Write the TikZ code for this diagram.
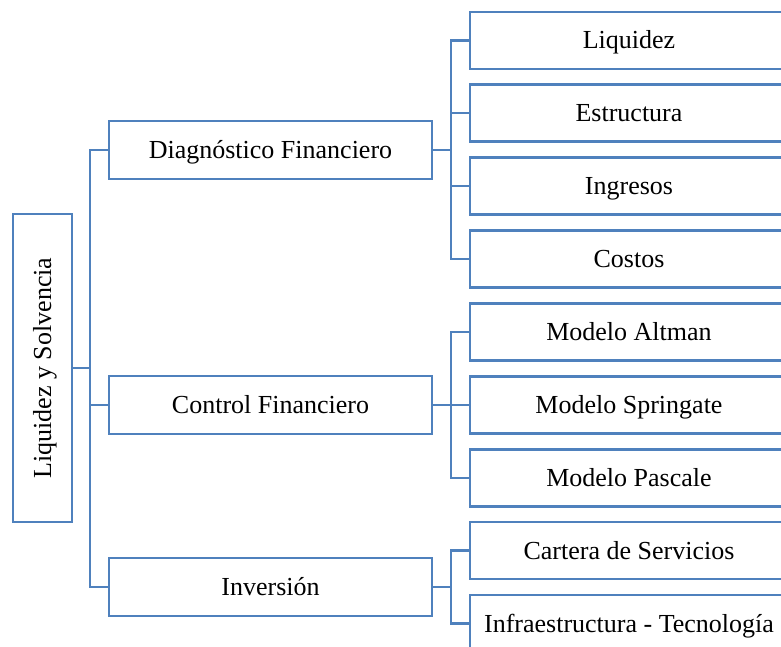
\documentclass[tikz,border=0pt]{standalone}
\usepackage{fontspec}
\setmainfont{Liberation Serif}
\definecolor{boxblue}{RGB}{79,129,189}
\begin{document}
\begin{tikzpicture}[x=1pt,y=-1pt,
  txt/.style={font=\fontsize{26}{30}\selectfont,text=black,text height=17pt,text depth=0pt,inner sep=0pt},
  box/.style={draw=boxblue,line width=2.7pt,fill=white,rectangle,txt},
  leafbox/.style={box,minimum width=318pt,minimum height=57pt},
  midbox/.style={box,minimum width=323pt,minimum height=58pt},
  conn/.style={draw=boxblue,line width=2.7pt}]
\useasboundingbox (0,0) rectangle (781,647);
\clip (0,0) rectangle (781,647);
% root
\node[box,minimum width=59pt,minimum height=308pt] (root) at (42.5,368) {};
\node[txt,rotate=90] (roottext) at (root.center) {Liquidez y Solvencia};
% middle
\node[midbox] (d1) at (270.5,150) {Diagnóstico Financiero};
\node[midbox] (d2) at (270.5,405) {Control Financiero};
\node[midbox] (d3) at (270.5,587) {Inversión};
% leaves
\node[leafbox] (l1) at (629,40.5) {Liquidez};
\node[leafbox] (l2) at (629,113) {Estructura};
\node[leafbox] (l3) at (629,186) {Ingresos};
\node[leafbox] (l4) at (629,259) {Costos};
\node[leafbox] (l5) at (629,332) {Modelo Altman};
\node[leafbox] (l6) at (629,405) {Modelo Springate};
\node[leafbox] (l7) at (629,478) {Modelo Pascale};
\node[leafbox] (l8) at (629,550.5) {Cartera de Servicios};
\node[leafbox] (l9) at (629,623.5) {Infraestructura - Tecnología};
% connectors
\coordinate (t1) at (90,368);
\draw[conn] (root.east) -- (t1);
\draw[conn] (t1) |- (d1.west);
\draw[conn] (t1) |- (d2.west);
\draw[conn] (t1) |- (d3.west);
\coordinate (ta) at (451,150);
\draw[conn] (d1.east) -- (ta);
\foreach \l in {l1,l2,l3,l4} \draw[conn] (ta) |- (\l.west);
\coordinate (tb) at (451,405);
\draw[conn] (d2.east) -- (tb);
\foreach \l in {l5,l6,l7} \draw[conn] (tb) |- (\l.west);
\coordinate (tc) at (451,587);
\draw[conn] (d3.east) -- (tc);
\foreach \l in {l8,l9} \draw[conn] (tc) |- (\l.west);
\end{tikzpicture}
\end{document}
